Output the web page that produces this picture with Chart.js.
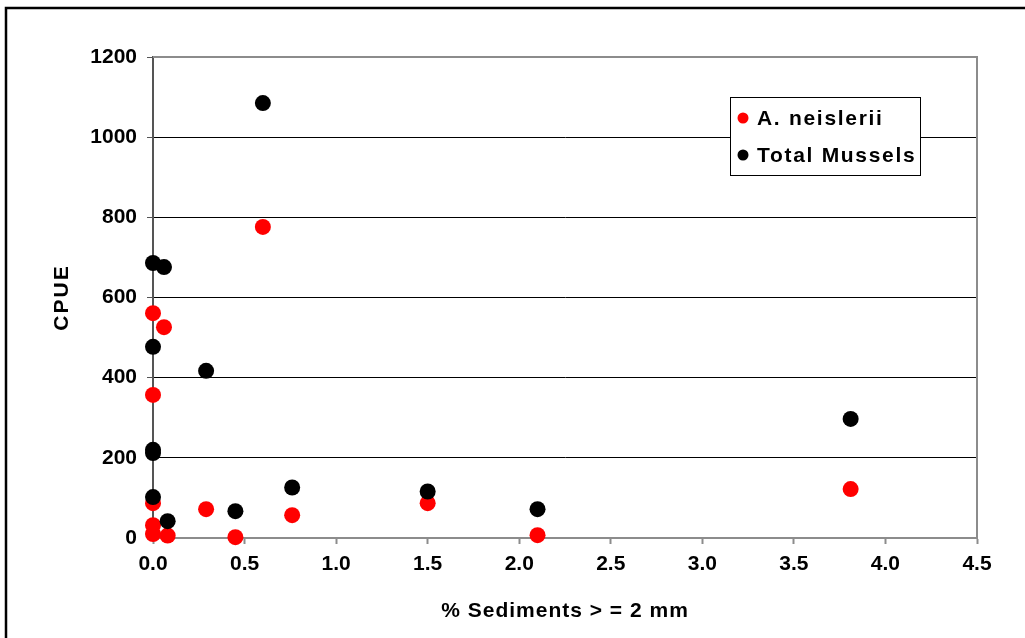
<!DOCTYPE html>
<html>
<head>
<meta charset="utf-8">
<script src="https://cdn.jsdelivr.net/npm/chart.js@4/dist/chart.umd.min.js"></script>
<style>
  html, body { margin: 0; padding: 0; background: #ffffff; }
  #wrap { width: 1025px; height: 638px; position: relative; }
</style>
</head>
<body>
<div id="wrap"><canvas id="c" width="1025" height="638"></canvas></div>
<script>
// % sediments >= 2 mm for each site
const neislSediment = [0.60, 0.00, 0.06, 0.00, 0.00, 0.00, 0.00, 0.08, 0.29, 0.45, 0.76, 1.50, 2.10, 3.81];
const neislCPUE     = [776, 561, 526, 357, 87, 32, 10, 6, 72, 2, 57, 87, 7, 122];

const totalSediment = [0.60, 0.00, 0.06, 0.00, 0.29, 0.00, 0.00, 0.00, 0.08, 0.45, 0.76, 1.50, 2.10, 3.81];
const totalCPUE     = [1085, 686, 676, 477, 417, 220, 212, 102, 42, 67, 126, 116, 72, 297];

const xTicks = [0, 0.5, 1, 1.5, 2, 2.5, 3, 3.5, 4, 4.5];
const yTicks = [0, 200, 400, 600, 800, 1000, 1200];

const seriesNames = ['A. neislerii', 'Total Mussels'];
const seriesColors = ['#ff0000', '#000000'];

const xTitle = '% Sediments > = 2 mm';
const yTitle = 'CPUE';

const toPoints = (xs, ys) => xs.map((x, i) => ({ x: x, y: ys[i] }));

const FONT = 'Liberation Sans, Arial, sans-serif';
const TEXT = 'bold 21px ' + FONT;

// Outer frame, plot frame, axis titles and the boxed legend
const decorations = {
  id: 'decorations',
  beforeDraw(chart) {
    const ctx = chart.ctx;
    ctx.save();
    ctx.fillStyle = '#ffffff';
    ctx.fillRect(0, 0, chart.width, chart.height);
    ctx.strokeStyle = '#000000';
    ctx.lineWidth = 2.5;
    ctx.beginPath();
    ctx.moveTo(6, chart.height + 5);
    ctx.lineTo(6, 8);
    ctx.lineTo(chart.width + 5, 8);
    ctx.stroke();
    ctx.restore();
  },
  beforeDatasetsDraw(chart) {
    const ctx = chart.ctx;
    const a = chart.chartArea;
    ctx.save();
    ctx.strokeStyle = '#8c8c8c';
    ctx.lineWidth = 2;
    ctx.beginPath();
    ctx.moveTo(a.left, a.top);
    ctx.lineTo(a.right, a.top);
    ctx.lineTo(a.right, a.bottom);
    ctx.stroke();

    // axis titles
    ctx.fillStyle = '#000000';
    ctx.font = TEXT;
    ctx.textAlign = 'center';
    ctx.textBaseline = 'middle';
    ctx.letterSpacing = '1px';
    ctx.fillText(xTitle, (a.left + a.right) / 2, 611);
    ctx.translate(62, (a.top + a.bottom) / 2);
    ctx.rotate(-Math.PI / 2);
    ctx.letterSpacing = '2px';
    ctx.fillText(yTitle, 0, 0);
    ctx.restore();
  },
  afterDatasetsDraw(chart) {
    const ctx = chart.ctx;
    const bx = 730, by = 97, bw = 190, bh = 78;
    ctx.save();
    ctx.fillStyle = '#ffffff';
    ctx.fillRect(bx, by, bw, bh);
    ctx.strokeStyle = '#000000';
    ctx.lineWidth = 1;
    ctx.strokeRect(bx + 0.5, by + 0.5, bw, bh);
    ctx.font = TEXT;
    ctx.letterSpacing = '1.7px';
    ctx.textBaseline = 'middle';
    ctx.textAlign = 'left';
    chart.data.datasets.forEach((ds, i) => {
      const cy = by + 21 + i * 37;
      ctx.fillStyle = ds.backgroundColor;
      ctx.beginPath();
      ctx.arc(bx + 13, cy, 5.5, 0, Math.PI * 2);
      ctx.fill();
      ctx.fillStyle = '#000000';
      ctx.fillText(ds.label, bx + 27, cy + 1);
    });
    ctx.restore();
  }
};

new Chart(document.getElementById('c'), {
  type: 'scatter',
  data: {
    datasets: [
      {
        label: seriesNames[0],
        data: toPoints(neislSediment, neislCPUE),
        backgroundColor: seriesColors[0],
        borderColor: seriesColors[0],
        pointRadius: 8,
        pointHoverRadius: 8,
        borderWidth: 0,
        order: 1,
        clip: false
      },
      {
        label: seriesNames[1],
        data: toPoints(totalSediment, totalCPUE),
        backgroundColor: seriesColors[1],
        borderColor: seriesColors[1],
        pointRadius: 8,
        pointHoverRadius: 8,
        borderWidth: 0,
        order: 0,
        clip: false
      }
    ]
  },
  options: {
    responsive: false,
    animation: false,
    devicePixelRatio: 1,
    layout: { padding: { left: 0, top: 57, right: 48, bottom: 0 } },
    plugins: {
      legend: { display: false },
      tooltip: { enabled: false }
    },
    scales: {
      x: {
        type: 'linear',
        min: 0,
        max: 4.5,
        afterBuildTicks(scale) { scale.ticks = xTicks.map(v => ({ value: v })); },
        afterFit(scale) { scale.height = 100; },
        ticks: {
          font: { family: FONT, size: 21, weight: 'bold' },
          color: '#000000',
          padding: 8,
          maxRotation: 0,
          callback: v => Number(v).toFixed(1)
        },
        grid: {
          drawOnChartArea: false,
          drawTicks: true,
          tickLength: 6,
          tickColor: '#8c8c8c',
          tickWidth: 2
        },
        border: { color: '#8c8c8c', width: 2 },
        title: { display: false }
      },
      y: {
        type: 'linear',
        min: 0,
        max: 1200,
        afterBuildTicks(scale) { scale.ticks = yTicks.map(v => ({ value: v })); },
        afterFit(scale) { scale.width = 153; },
        ticks: {
          font: { family: FONT, size: 21, weight: 'bold' },
          color: '#000000',
          padding: 10,
          callback: v => String(v)
        },
        grid: {
          drawOnChartArea: true,
          drawTicks: true,
          tickLength: 6,
          color: ctx => (ctx.tick && (ctx.tick.value === 1200 || ctx.tick.value === 0)) ? 'rgba(0,0,0,0)' : '#000000',
          tickColor: '#555555',
          lineWidth: 1
        },
        border: { color: '#555555', width: 2 },
        title: { display: false }
      }
    }
  },
  plugins: [decorations]
});
</script>
</body>
</html>
